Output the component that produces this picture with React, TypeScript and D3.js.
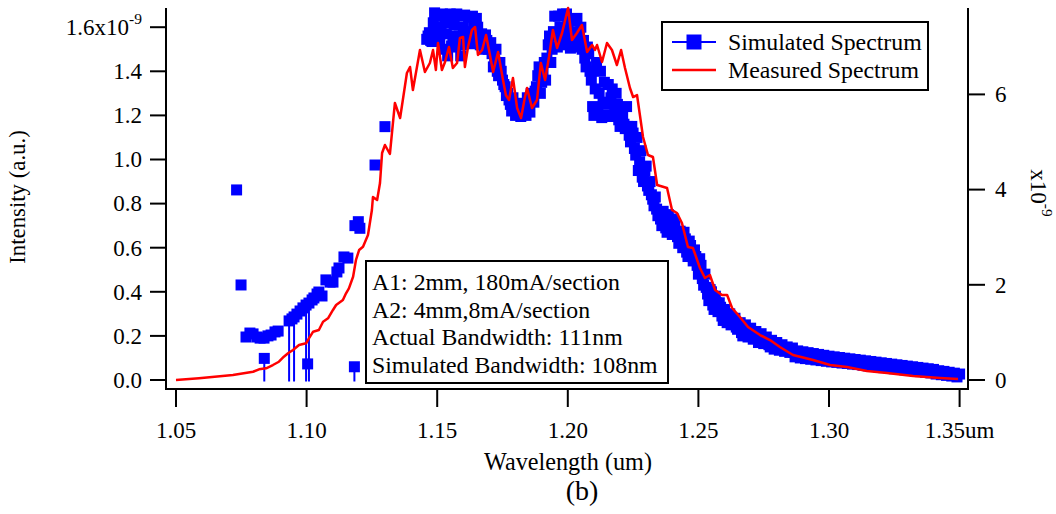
import React from 'react';
import * as d3 from 'd3';

// ---------- data ----------
const xTicks = [1.05, 1.10, 1.15, 1.20, 1.25, 1.30, 1.35];
const xTickLabels = ['1.05', '1.10', '1.15', '1.20', '1.25', '1.30', '1.35um'];
const leftTicks = [0, 0.2, 0.4, 0.6, 0.8, 1.0, 1.2, 1.4, 1.6];
const leftTickLabels = ['0.0', '0.2', '0.4', '0.6', '0.8', '1.0', '1.2', '1.4', '1.6x10'];
const rightTicks = [0, 2, 4, 6];
const rightTickLabels = ['0', '2', '4', '6'];

// Simulated spectrum (left axis, x1e-9)
const simulated: [number, number][] = [
  [1.0732, 0.862], [1.0749, 0.431],
  [1.0768, 0.195], [1.0783, 0.213], [1.0795, 0.209], [1.0810, 0.195], [1.0822, 0.190],
  [1.0837, 0.190], [1.0838, 0.098], [1.0852, 0.200], [1.0864, 0.204], [1.0879, 0.218], [1.0891, 0.222],
  [1.0933, 0.268], [1.0944, 0.277], [1.0952, 0.286], [1.0963, 0.299], [1.0975, 0.313], [1.0986, 0.327],
  [1.0998, 0.340], [1.1004, 0.073], [1.1009, 0.349], [1.1021, 0.363], [1.1028, 0.372], [1.1040, 0.390],
  [1.1047, 0.399], [1.1059, 0.381], [1.1074, 0.454], [1.1090, 0.444], [1.1101, 0.444], [1.1116, 0.490],
  [1.1124, 0.508], [1.1143, 0.558], [1.1158, 0.553], [1.1183, 0.060], [1.1185, 0.700], [1.1198, 0.718],
  [1.1204, 0.688], [1.1262, 0.975], [1.1300, 1.149],
  [1.146, 1.545], [1.147, 1.575], [1.148, 1.535], [1.149, 1.665], [1.150, 1.600], [1.151, 1.548],
  [1.152, 1.660], [1.153, 1.620], [1.154, 1.470], [1.155, 1.660], [1.156, 1.560], [1.157, 1.510],
  [1.158, 1.650], [1.159, 1.470], [1.160, 1.600], [1.161, 1.545], [1.162, 1.645], [1.163, 1.525],
  [1.164, 1.600], [1.165, 1.640], [1.166, 1.540], [1.167, 1.570], [1.168, 1.500], [1.169, 1.540],
  [1.170, 1.505], [1.171, 1.480], [1.172, 1.450], [1.173, 1.400], [1.174, 1.440], [1.175, 1.360],
  [1.176, 1.330], [1.177, 1.300], [1.178, 1.250], [1.179, 1.280], [1.180, 1.200], [1.181, 1.255],
  [1.182, 1.195], [1.183, 1.230], [1.184, 1.200], [1.185, 1.240], [1.186, 1.300], [1.187, 1.260],
  [1.188, 1.330], [1.189, 1.420], [1.190, 1.350], [1.191, 1.440], [1.192, 1.460], [1.193, 1.560],
  [1.194, 1.500], [1.195, 1.650], [1.196, 1.510], [1.197, 1.600], [1.198, 1.660], [1.199, 1.550],
  [1.200, 1.620], [1.201, 1.505], [1.202, 1.630], [1.203, 1.560], [1.204, 1.510], [1.205, 1.600],
  [1.206, 1.540], [1.207, 1.420], [1.208, 1.480], [1.209, 1.360], [1.210, 1.200], [1.211, 1.440],
  [1.212, 1.300], [1.213, 1.190], [1.214, 1.350], [1.215, 1.250], [1.216, 1.195], [1.217, 1.320],
  [1.218, 1.220], [1.219, 1.250], [1.220, 1.150], [1.221, 1.200], [1.222, 1.140], [1.223, 1.150],
  [1.224, 1.080], [1.225, 1.120], [1.226, 1.020], [1.227, 0.950], [1.228, 1.040], [1.229, 0.900],
  [1.230, 0.970], [1.231, 0.860], [1.232, 0.840], [1.233, 0.790], [1.234, 0.775], [1.235, 0.760],
  [1.236, 0.700], [1.237, 0.740], [1.238, 0.670], [1.239, 0.720], [1.240, 0.660], [1.241, 0.700],
  [1.242, 0.650], [1.243, 0.675], [1.244, 0.600], [1.245, 0.640], [1.246, 0.560], [1.247, 0.610],
  [1.248, 0.540], [1.249, 0.560], [1.250, 0.480], [1.251, 0.520], [1.252, 0.430], [1.253, 0.420],
  [1.254, 0.360], [1.255, 0.400], [1.256, 0.320], [1.257, 0.350], [1.258, 0.350], [1.259, 0.290],
  [1.260, 0.320], [1.261, 0.260], [1.262, 0.300], [1.263, 0.255], [1.264, 0.280], [1.265, 0.230],
  [1.266, 0.260], [1.267, 0.200], [1.268, 0.250], [1.269, 0.195], [1.270, 0.235], [1.271, 0.185],
  [1.272, 0.220], [1.273, 0.170], [1.274, 0.210], [1.275, 0.165], [1.276, 0.195], [1.277, 0.160],
  [1.278, 0.180], [1.279, 0.140], [1.280, 0.170], [1.281, 0.135], [1.282, 0.160], [1.283, 0.130],
  [1.284, 0.150], [1.285, 0.125], [1.286, 0.145], [1.287, 0.105], [1.288, 0.132], [1.289, 0.100],
  [1.290, 0.128], [1.291, 0.097], [1.292, 0.124], [1.293, 0.094], [1.294, 0.120], [1.295, 0.091],
  [1.296, 0.116], [1.297, 0.088], [1.298, 0.112], [1.299, 0.085], [1.300, 0.108], [1.301, 0.082],
  [1.302, 0.105], [1.303, 0.080], [1.304, 0.102], [1.305, 0.077], [1.306, 0.099], [1.307, 0.075],
  [1.308, 0.096], [1.309, 0.072], [1.310, 0.093], [1.311, 0.070], [1.312, 0.090], [1.313, 0.067],
  [1.314, 0.087], [1.315, 0.064], [1.316, 0.084], [1.317, 0.062], [1.318, 0.081], [1.319, 0.059],
  [1.320, 0.078], [1.321, 0.056], [1.322, 0.075], [1.323, 0.054], [1.324, 0.072], [1.325, 0.051],
  [1.326, 0.069], [1.327, 0.048], [1.328, 0.066], [1.329, 0.046], [1.330, 0.063], [1.331, 0.043],
  [1.332, 0.060], [1.333, 0.040], [1.334, 0.057], [1.335, 0.038], [1.336, 0.054], [1.337, 0.035],
  [1.338, 0.051], [1.339, 0.032], [1.340, 0.048], [1.341, 0.027], [1.342, 0.042], [1.343, 0.024],
  [1.344, 0.039], [1.345, 0.021], [1.346, 0.035], [1.347, 0.018], [1.348, 0.031], [1.349, 0.014],
  [1.350, 0.027],
  // intermediate samples
  [1.1465, 1.560], [1.1475, 1.540], [1.1485, 1.620], [1.1495, 1.570], [1.1505, 1.650], [1.1515, 1.600],
  [1.1525, 1.500], [1.1535, 1.570], [1.1545, 1.640], [1.1555, 1.515], [1.1565, 1.610], [1.1575, 1.660],
  [1.1585, 1.560], [1.1595, 1.520], [1.1605, 1.655], [1.1615, 1.580], [1.1625, 1.560], [1.1635, 1.650],
  [1.1645, 1.555], [1.1655, 1.600], [1.1665, 1.520], [1.1675, 1.535], [1.1685, 1.565], [1.1695, 1.500],
  [1.1705, 1.530], [1.1715, 1.420], [1.1725, 1.500], [1.1735, 1.380], [1.1745, 1.400], [1.1755, 1.340],
  [1.1765, 1.290], [1.1775, 1.270], [1.1785, 1.220], [1.1795, 1.230], [1.1805, 1.225], [1.1815, 1.210],
  [1.1825, 1.245], [1.1835, 1.205], [1.1845, 1.280], [1.1855, 1.215], [1.1865, 1.270], [1.1875, 1.310],
  [1.1885, 1.380], [1.1895, 1.300], [1.1905, 1.400], [1.1915, 1.360], [1.1925, 1.520], [1.1935, 1.440],
  [1.1945, 1.580], [1.1955, 1.560], [1.1965, 1.650], [1.1975, 1.520], [1.1985, 1.590], [1.1995, 1.660],
  [1.2005, 1.560], [1.2015, 1.580], [1.2025, 1.520], [1.2035, 1.640], [1.2045, 1.560], [1.2055, 1.500],
  [1.2065, 1.460], [1.2075, 1.510], [1.2085, 1.400], [1.2095, 1.240], [1.2105, 1.320], [1.2115, 1.230],
  [1.2125, 1.400], [1.2135, 1.260], [1.2145, 1.200], [1.2155, 1.340], [1.2165, 1.280], [1.2175, 1.200],
  [1.2185, 1.300], [1.2195, 1.180], [1.2205, 1.230], [1.2215, 1.160], [1.2225, 1.240], [1.2235, 1.110],
  [1.2245, 1.150], [1.2255, 1.050], [1.2265, 1.100], [1.2275, 0.990], [1.2285, 0.920], [1.2295, 0.950],
  [1.2305, 0.880], [1.2315, 0.900], [1.2325, 0.820], [1.2335, 0.830], [1.2345, 0.745], [1.2355, 0.730],
  [1.2365, 0.765], [1.2375, 0.690], [1.2385, 0.750], [1.2395, 0.680], [1.2405, 0.730], [1.2415, 0.670],
  [1.2425, 0.620], [1.2435, 0.640], [1.2445, 0.670], [1.2455, 0.580], [1.2465, 0.630], [1.2475, 0.560],
  [1.2485, 0.590], [1.2495, 0.520], [1.2505, 0.550], [1.2515, 0.460], [1.2525, 0.480], [1.2535, 0.390],
  [1.2545, 0.410], [1.2555, 0.340], [1.2565, 0.380], [1.2575, 0.310], [1.2585, 0.330], [1.2595, 0.270],
  [1.2605, 0.300], [1.2615, 0.280], [1.2625, 0.250], [1.2635, 0.270], [1.2645, 0.240], [1.2655, 0.250],
  [1.2665, 0.215], [1.2675, 0.225], [1.2685, 0.210], [1.2695, 0.215], [1.2705, 0.200], [1.2715, 0.205],
  [1.2725, 0.190], [1.2735, 0.195], [1.2745, 0.180], [1.2755, 0.180], [1.2765, 0.170], [1.2775, 0.150],
  [1.2785, 0.160], [1.2795, 0.155], [1.2805, 0.145], [1.2815, 0.150], [1.2825, 0.140], [1.2835, 0.145],
  [1.2845, 0.135], [1.2855, 0.138], [1.2865, 0.125],
];

// wavelengths where the simulated trace drops to zero
const simDrops = [1.0838, 1.0933, 1.0952, 1.0998, 1.1009, 1.1183];

// Measured spectrum (right axis, x1e-9)
const measured: [number, number][] = [
  [1.0500, 0], [1.0588, 0.036], [1.0718, 0.105], [1.0795, 0.174], [1.0818, 0.225], [1.0845, 0.246],
  [1.0871, 0.315], [1.0894, 0.384], [1.0913, 0.489], [1.0929, 0.561], [1.0948, 0.630], [1.0971, 0.735],
  [1.0998, 0.771], [1.1009, 0.876], [1.1025, 1.015], [1.1047, 1.050], [1.1063, 1.225], [1.1082, 1.296],
  [1.1101, 1.471], [1.1113, 1.576], [1.1139, 1.681], [1.1151, 1.821], [1.1162, 1.926], [1.1178, 2.170],
  [1.1189, 2.521], [1.1201, 2.731], [1.1216, 2.800], [1.1235, 3.046], [1.1250, 3.571], [1.1254, 3.845],
  [1.1270, 3.782], [1.1281, 4.139], [1.1289, 4.769], [1.1300, 4.937], [1.1319, 4.748], [1.1338, 5.819],
  [1.1358, 5.504], [1.1384, 6.450], [1.1396, 6.576], [1.1407, 6.092], [1.1434, 6.933], [1.1453, 6.471],
  [1.1472, 6.660], [1.1484, 6.933], [1.1495, 6.513], [1.1503, 7.080], [1.1518, 6.513], [1.1530, 6.681],
  [1.1545, 6.996], [1.1560, 6.555], [1.1576, 6.660], [1.1587, 7.185], [1.1599, 7.206], [1.1606, 6.576],
  [1.1618, 6.996], [1.1633, 7.353], [1.1645, 7.416], [1.1656, 6.828], [1.1672, 6.933], [1.1687, 7.248],
  [1.1702, 6.828], [1.1714, 6.471], [1.1733, 6.891], [1.1752, 6.303], [1.1763, 5.987], [1.1775, 5.882],
  [1.1790, 6.345], [1.1806, 5.714], [1.1821, 5.504], [1.1836, 5.945], [1.1844, 6.134], [1.1863, 5.714],
  [1.1882, 5.882], [1.1897, 6.660], [1.1913, 6.303], [1.1928, 6.786], [1.1943, 7.353], [1.1959, 6.975],
  [1.1978, 7.290], [1.2001, 7.815], [1.2016, 7.143], [1.2035, 7.290], [1.2054, 7.458], [1.2074, 6.891],
  [1.2093, 7.038], [1.2104, 6.933], [1.2112, 7.038], [1.2131, 6.681], [1.2150, 7.080], [1.2169, 6.933],
  [1.2188, 6.618], [1.2204, 6.933], [1.2219, 6.555], [1.2238, 6.134], [1.2250, 5.945], [1.2265, 5.987],
  [1.2276, 5.567], [1.2288, 5.105], [1.2307, 4.727], [1.2326, 4.685], [1.2342, 4.097], [1.2380, 4.034],
  [1.2399, 3.571], [1.2418, 3.508], [1.2437, 3.298], [1.2460, 2.794], [1.2479, 2.773], [1.2506, 2.353],
  [1.2525, 2.143], [1.2544, 2.206], [1.2564, 1.891], [1.2590, 1.786], [1.2610, 1.786], [1.2629, 1.513],
  [1.2659, 1.324], [1.2690, 1.113], [1.2736, 0.945], [1.2774, 0.840], [1.2812, 0.693], [1.2862, 0.525],
  [1.2939, 0.420], [1.3004, 0.315], [1.3069, 0.273], [1.3145, 0.189], [1.3222, 0.147], [1.3322, 0.084],
  [1.3425, 0.042], [1.3494, 0.021],
];

const legendItems = ['Simulated Spectrum', 'Measured Spectrum'];
const annotationLines = [
  'A1: 2mm, 180mA/section',
  'A2: 4mm,8mA/section',
  'Actual Bandwidth: 111nm',
  'Simulated Bandwidth: 108nm',
];

const FONT = '"Liberation Serif", "Times New Roman", serif';
const BLUE = '#0000ff';
const RED = '#ff0000';

export default function App() {
  const W = 1056, H = 514;
  const plot = { left: 166, right: 968, top: 8, bottom: 389 };
  const x = d3.scaleLinear().domain([1.05, 1.35]).range([176, 959.6]);
  const yL = d3.scaleLinear().domain([0, 1.6]).range([380, 27.2]);
  const yR = d3.scaleLinear().domain([0, 6]).range([380, 94.4]);
  const lineR = d3.line<[number, number]>().x(d => x(d[0])).y(d => yR(d[1]));
  const ms = 11;
  const fsTick = 23;
  const fsText = 23.8;

  return (
    <svg width={W} height={H} style={{ position: 'absolute', left: 0, top: 0, background: '#fff' }}
      fontFamily={FONT}>
      <rect x={0} y={0} width={W} height={H} fill="#fff" />

      {/* simulated markers */}
      <g fill={BLUE}>
        {simulated.map((d, i) => (
          <rect key={i} x={x(d[0]) - ms / 2} y={yL(d[1]) - ms / 2} width={ms} height={ms} />
        ))}
      </g>
      {/* drop lines */}
      <g stroke={BLUE} strokeWidth={2}>
        {simDrops.map((w, i) => {
          const p = simulated.find(d => d[0] === w)!;
          return <line key={i} x1={x(w)} x2={x(w)} y1={yL(p[1])} y2={yL(0) + 1.5} />;
        })}
      </g>
      {/* measured line */}
      <path d={lineR(measured) || ''} fill="none" stroke={RED} strokeWidth={2.5} strokeLinejoin="round" />

      {/* axes */}
      <g stroke="#000" strokeWidth={2} fill="none">
        <line x1={plot.left} x2={plot.left} y1={plot.top} y2={plot.bottom + 1} />
        <line x1={plot.right} x2={plot.right} y1={plot.top} y2={plot.bottom + 1} />
        <line x1={plot.left - 1} x2={plot.right + 1} y1={plot.bottom} y2={plot.bottom} />
        {leftTicks.map((t, i) => (
          <line key={'l' + i} x1={plot.left - 16} x2={plot.left} y1={yL(t)} y2={yL(t)} />
        ))}
        {rightTicks.map((t, i) => (
          <line key={'r' + i} x1={plot.right} x2={plot.right + 17} y1={yR(t)} y2={yR(t)} />
        ))}
        {xTicks.map((t, i) => (
          <line key={'b' + i} x1={x(t)} x2={x(t)} y1={plot.bottom} y2={plot.bottom + 18} />
        ))}
      </g>

      {/* left tick labels */}
      <g fontSize={fsTick} fill="#000">
        {leftTicks.map((t, i) => (
          <text key={i} x={142} y={yL(t) + 7.8} textAnchor="end">
            {leftTickLabels[i]}
            {i === leftTicks.length - 1 ? <tspan fontSize={15.5} dy={-11}>-9</tspan> : null}
          </text>
        ))}
      </g>
      {/* right tick labels */}
      <g fontSize={fsTick} fill="#000">
        {rightTicks.map((t, i) => (
          <text key={i} x={995} y={yR(t) + 7.8} textAnchor="start">{rightTickLabels[i]}</text>
        ))}
      </g>
      <text transform="translate(1031,193) rotate(90)" fontSize={fsTick} textAnchor="middle" fill="#000">
        x10<tspan fontSize={15.5} dy={-11}>-9</tspan>
      </text>
      {/* bottom tick labels */}
      <g fontSize={fsTick} fill="#000">
        {xTicks.map((t, i) => (
          <text key={i} x={x(t)} y={438} textAnchor="middle">{xTickLabels[i]}</text>
        ))}
      </g>
      {/* axis titles */}
      <text transform="translate(25,197) rotate(-90)" fontSize={22.8} textAnchor="middle" fill="#000">
        Intensity (a.u.)
      </text>
      <text x={568} y={470} fontSize={24.2} textAnchor="middle" fill="#000">Wavelength (um)</text>
      <text x={582} y={500} fontSize={28} textAnchor="middle" fill="#000">(b)</text>

      {/* legend */}
      <rect x={662} y={22} width={266} height={68} fill="#fff" stroke="#000" strokeWidth={2} />
      <line x1={672} x2={716} y1={42} y2={42} stroke={BLUE} strokeWidth={2} />
      <rect x={694 - 7.5} y={42 - 7.5} width={15} height={15} fill={BLUE} />
      <line x1={672} x2={716} y1={70} y2={70} stroke={RED} strokeWidth={2.5} />
      <g fontSize={fsText} fill="#000">
        {legendItems.map((s, i) => (
          <text key={i} x={728} y={50 + i * 28}>{s}</text>
        ))}
      </g>

      {/* annotation */}
      <rect x={366} y={261} width={302} height={122} fill="#fff" stroke="#000" strokeWidth={2} />
      <g fontSize={fsText} fill="#000">
        {annotationLines.map((s, i) => (
          <text key={i} x={372} y={290 + i * 27.7}>{s}</text>
        ))}
      </g>
    </svg>
  );
}
